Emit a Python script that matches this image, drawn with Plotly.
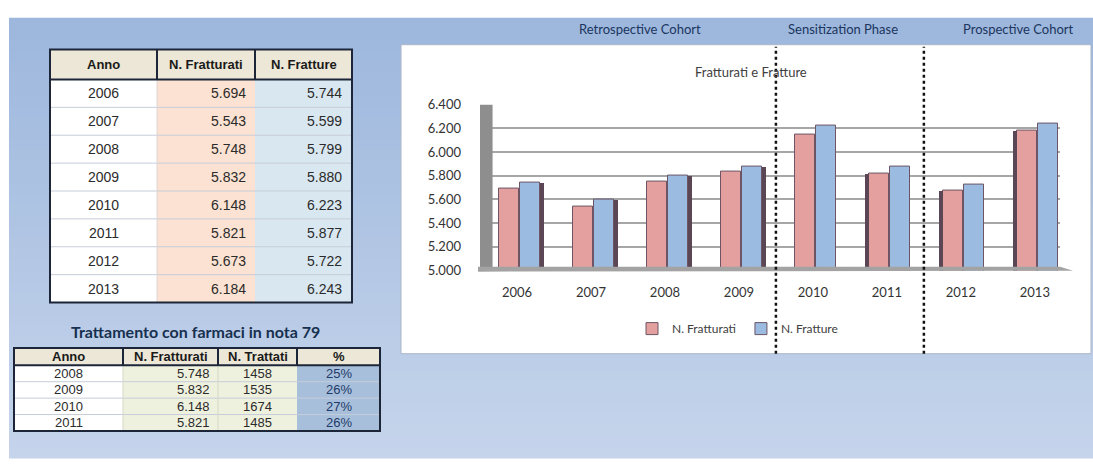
import plotly.graph_objects as go

# ---- data -------------------------------------------------------------
anni = [2006, 2007, 2008, 2009, 2010, 2011, 2012, 2013]
n_fratturati = [5694, 5543, 5748, 5832, 6148, 5821, 5673, 6184]
n_fratture = [5744, 5599, 5799, 5880, 6223, 5877, 5722, 6243]

anni_nota79 = [2008, 2009, 2010, 2011]
fratturati_nota79 = [5748, 5832, 6148, 5821]
trattati_nota79 = [1458, 1535, 1674, 1485]
perc_nota79 = [25, 26, 27, 26]

fasi = ["Retrospective Cohort", "Sensitization Phase", "Prospective Cohort"]
y_ticks = [5000, 5200, 5400, 5600, 5800, 6000, 6200, 6400]

# ---- page geometry helpers (pixels -> paper) ---------------------------
W, H = 1093, 466


def X(px):
    return px / W


def Y(py):
    return 1 - py / H


def it(v):
    return f"{v:,}".replace(",", ".")


def lerp_color(c1, c2, t):
    a = [int(c1[i:i + 2], 16) for i in (1, 3, 5)]
    b = [int(c2[i:i + 2], 16) for i in (1, 3, 5)]
    return "#" + "".join(f"{round(a[k] + (b[k] - a[k]) * t):02x}" for k in range(3))


shapes = []
annotations = []


def rect(x0, y0, x1, y1, fill, line=None, lw=0, layer="below"):
    shapes.append(dict(type="rect", xref="paper", yref="paper",
                       x0=X(x0), x1=X(x1), y0=Y(y1), y1=Y(y0),
                       fillcolor=fill, line=dict(color=line or fill, width=lw),
                       layer=layer))


def hline(x0, x1, y, color, lw, layer="below"):
    shapes.append(dict(type="line", xref="paper", yref="paper",
                       x0=X(x0), x1=X(x1), y0=Y(y), y1=Y(y),
                       line=dict(color=color, width=lw), layer=layer))


def vline(x, y0, y1, color, lw, layer="below"):
    shapes.append(dict(type="line", xref="paper", yref="paper",
                       x0=X(x), x1=X(x), y0=Y(y0), y1=Y(y1),
                       line=dict(color=color, width=lw), layer=layer))


def text(x, y, s, size=13, color="#2b2b2b", anchor="center", bold=False,
         family="Liberation Sans, Arial, sans-serif"):
    annotations.append(dict(xref="paper", yref="paper", x=X(x), y=Y(y),
                            text=f"<b>{s}</b>" if bold else s, showarrow=False,
                            xanchor=anchor, yanchor="middle",
                            font=dict(size=size, color=color, family=family)))


# ---- slide background: blue vertical gradient --------------------------
n_bands = 40
top, bottom = 10, H
for k in range(n_bands):
    y0 = top + (bottom - top) * k / n_bands
    y1 = top + (bottom - top) * (k + 1) / n_bands + 0.5
    rect(9, y0, W, y1, lerp_color("#9db7dd", "#c5d4eb", k / (n_bands - 1)))

# ---- phase labels above the chart --------------------------------------
CAL = "Lato, Carlito, Calibri, sans-serif"
for label, cx in zip(fasi, [640, 843, 1018]):
    text(cx, 22, label, size=13, color="#1b355e", family=CAL)

# ---- chart panel --------------------------------------------------------
rect(401, 38, 1091, 358, "#ffffff", "#aab6c8", 1)

# ---- table: N. Fratturati / N. Fratture ---------------------------------
t1_cols = [50, 157, 255, 352]
t1_top, t1_head, t1_bot = 43, 74, 305
t1_fills = ["#ffffff", "#fbe2d2", "#d9e7f1"]
row_h = (t1_bot - t1_head) / len(anni)
rect(t1_cols[0], t1_top, t1_cols[-1], t1_head, "#ece7d6")
for c in range(3):
    rect(t1_cols[c], t1_head, t1_cols[c + 1], t1_bot, t1_fills[c])
for r in range(1, len(anni)):
    hline(t1_cols[0], t1_cols[-1], t1_head + r * row_h, "#c6cdd9", 1)
vline(t1_cols[1], t1_head, t1_bot, "#e0d6d6", 1)
for c in (1, 2):
    vline(t1_cols[c], t1_top, t1_head, "#1c2638", 2)
hline(t1_cols[0], t1_cols[-1], t1_head, "#1c2638", 2)
rect(t1_cols[0], t1_top, t1_cols[-1], t1_bot, "rgba(0,0,0,0)", "#1c2638", 2)

for s, c in zip(["Anno", "N. Fratturati", "N. Fratture"], range(3)):
    text((t1_cols[c] + t1_cols[c + 1]) / 2, (t1_top + t1_head) / 2, s,
         size=13, color="#1a1a1a", bold=True)
for r, (a, f1, f2) in enumerate(zip(anni, n_fratturati, n_fratture)):
    cy = t1_head + (r + 0.5) * row_h
    text((t1_cols[0] + t1_cols[1]) / 2, cy, str(a), size=14)
    text(t1_cols[2] - 7, cy, it(f1), size=14, anchor="right")
    text(t1_cols[3] - 8, cy, it(f2), size=14, anchor="right")

# ---- table: Trattamento con farmaci in nota 79 ---------------------------
text(195, 335, "Trattamento con farmaci in nota 79", size=16, color="#17304f",
     bold=True, family=CAL)
t2_cols = [14, 123, 218, 297, 380]
t2_top, t2_head, t2_bot = 352, 370, 438
t2_fills = ["#ffffff", "#eff1df", "#eff1df", "#a7bfdb"]
row_h2 = (t2_bot - t2_head) / len(anni_nota79)
rect(t2_cols[0], t2_top, t2_cols[-1], t2_head, "#ece7d6")
for c in range(4):
    rect(t2_cols[c], t2_head, t2_cols[c + 1], t2_bot, t2_fills[c])
for r in range(1, len(anni_nota79)):
    hline(t2_cols[0], t2_cols[-1], t2_head + r * row_h2, "#c6cdd9", 1)
for c in (1, 2):
    vline(t2_cols[c], t2_head, t2_bot, "#d6d8c8", 1)
for c in (1, 2, 3):
    vline(t2_cols[c], t2_top, t2_head, "#1c2638", 2)
hline(t2_cols[0], t2_cols[-1], t2_head, "#1c2638", 2)
rect(t2_cols[0], t2_top, t2_cols[-1], t2_bot, "rgba(0,0,0,0)", "#1c2638", 2)

for s, c in zip(["Anno", "N. Fratturati", "N. Trattati", "%"], range(4)):
    text((t2_cols[c] + t2_cols[c + 1]) / 2, (t2_top + t2_head) / 2, s,
         size=13, color="#1a1a1a", bold=True)
for r, (a, f, t, p) in enumerate(zip(anni_nota79, fratturati_nota79,
                                      trattati_nota79, perc_nota79)):
    cy = t2_head + (r + 0.5) * row_h2
    text((t2_cols[0] + t2_cols[1]) / 2, cy, str(a), size=13)
    text(t2_cols[2] - 6, cy, it(f), size=13, anchor="right")
    text((t2_cols[2] + t2_cols[3]) / 2, cy, str(t), size=13)
    text((t2_cols[3] + t2_cols[4]) / 2, cy, f"{p}%", size=13, color="#1f3a68")

# ---- bar chart -----------------------------------------------------------
xpos = list(range(len(anni)))
PINK, BLUE, EDGE = "#e3a09f", "#9bbbe0", "#6d5566"

fig = go.Figure()
fig.add_trace(go.Bar(
    x=xpos, y=n_fratturati, name="N. Fratturati", marker_color=PINK,
    marker_line=dict(color=EDGE, width=1), offset=-0.24, width=0.27,
    customdata=anni, hovertemplate="%{customdata}: %{y:,}<extra></extra>"))
fig.add_trace(go.Bar(
    x=xpos, y=n_fratture, name="N. Fratture", marker_color=BLUE,
    marker_line=dict(color=EDGE, width=1), offset=0.04, width=0.27,
    customdata=anni, hovertemplate="%{customdata}: %{y:,}<extra></extra>"))

# darker side faces giving the columns their depth
mid = 4
side_y = [n_fratture[i] if i < mid else (n_fratturati[i] if i > mid else None)
          for i in xpos]
side_off = [0.31 if i < mid else -0.30 for i in xpos]
fig.add_trace(go.Bar(
    x=xpos, y=side_y, offset=side_off, width=0.06, marker_color="#5b4656",
    marker_line_width=0, showlegend=False, hoverinfo="skip"))

# side wall and floor of the chart box
shapes.append(dict(type="rect", xref="x", yref="y", x0=-0.5, x1=-0.33,
                   y0=y_ticks[0], y1=y_ticks[-1], fillcolor="#8e8e8e",
                   line_width=0, layer="above"))
shapes.append(dict(type="path", xref="paper", yref="paper",
                   path=(f"M {X(478)} {Y(268)} L {X(1060)} {Y(268)} "
                         f"L {X(1073)} {Y(272)} L {X(478)} {Y(273)} Z"),
                   fillcolor="#a3a3a3", line_width=0, layer="above"))

# phase separators
for xb in (3.5, 5.5):
    shapes.append(dict(type="line", xref="x", yref="paper", x0=xb, x1=xb,
                       y0=Y(358), y1=Y(40),
                       line=dict(color="#111111", width=2.5, dash="dot"),
                       layer="above"))

annotations.append(dict(xref="paper", yref="paper", x=X(751), y=Y(66),
                        xanchor="center", yanchor="middle",
                        text="Fratturati e Fratture", showarrow=False,
                        font=dict(size=13, color="#404040", family=CAL)))

fig.update_layout(
    width=W, height=H, margin=dict(l=0, r=0, t=0, b=0),
    paper_bgcolor="#ffffff", plot_bgcolor="#ededed",
    separators=",.", barmode="overlay", bargap=0,
    shapes=shapes, annotations=annotations,
    font=dict(family=CAL, size=13, color="#404040"),
    xaxis=dict(domain=[X(480), X(1060)], range=[-0.5, 7.34],
               tickvals=xpos, ticktext=[str(a) for a in anni],
               showgrid=False, zeroline=False, showline=False, ticks="",
               ticklabelstandoff=12,
               tickfont=dict(size=13, color="#333333", family=CAL)),
    yaxis=dict(domain=[Y(272), Y(100)], range=[y_ticks[0], y_ticks[-1]],
               tickvals=y_ticks, tickformat=",d", showgrid=True,
               gridcolor="#a6a6a6", gridwidth=2, zeroline=False,
               showline=False, ticks="", ticklabelstandoff=18,
               tickfont=dict(size=13, color="#333333", family=CAL)),
    legend=dict(orientation="h", x=X(632), y=Y(332), xanchor="left",
                yanchor="middle", bgcolor="rgba(0,0,0,0)", itemwidth=30,
                font=dict(size=12, color="#404040", family=CAL)),
)

fig.write_html("out.html")
